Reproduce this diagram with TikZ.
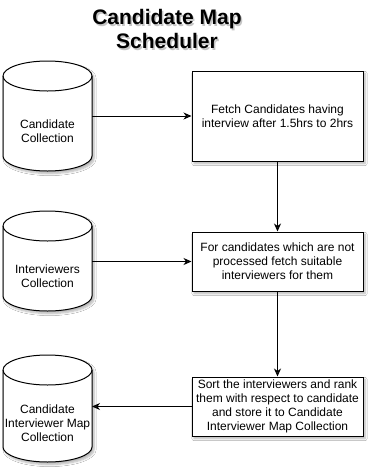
\documentclass[tikz,border=0pt]{standalone}
\usepackage{fontspec}
\setmainfont{Liberation Sans}
\usetikzlibrary{arrows.meta,calc,shadows.blur}

\tikzset{
  softshadow/.style={blur shadow={shadow xshift=2pt,shadow yshift=-2.5pt,shadow opacity=30,shadow blur steps=6}},
  proc/.style={draw, line width=1pt, fill=white, minimum width=171pt, inner sep=0pt,
    align=center, font=\fontsize{12}{14}\selectfont, softshadow},
  cylframe/.style={minimum width=89pt, inner sep=0pt, outer sep=0pt},
  cyltext/.style={align=center, font=\fontsize{12}{14}\selectfont, inner sep=0pt},
  cylline/.style={line width=1pt},
  titletext/.style={align=center, font=\fontsize{21}{24}\selectfont\bfseries, inner sep=0pt},
  flow/.style={-{Stealth[length=8pt,width=7pt,inset=2.5pt]}, line width=1pt},
}

% database cylinder drawn around a frame node
\newcommand\dbshape[1]{%
  \draw[cylline, fill=white, softshadow]
    ($(#1.north west)+(0,-15pt)$) -- ($(#1.south west)+(0,15pt)$)
    arc[start angle=180,end angle=360,x radius=44.5pt,y radius=15pt]
    -- ($(#1.north east)+(0,-15pt)$)
    arc[start angle=0,end angle=180,x radius=44.5pt,y radius=15pt] -- cycle;
  \draw[cylline] ($(#1.north west)+(0,-15pt)$)
    arc[start angle=180,end angle=360,x radius=44.5pt,y radius=15pt];
}

\begin{document}
\begin{tikzpicture}[x=1pt,y=1pt]
  \fill[white] (0,0) rectangle (376,-475);
  \useasboundingbox (0,0) rectangle (376,-475);

  % title with its soft shadow
  \node[titletext, text=black!45, opacity=0.5] (titleshade) at (168.5,-30.5) {Candidate Map\\Scheduler};
  \node[titletext] (title) at (167,-29) {Candidate Map\\Scheduler};

  % process steps
  \node[proc, minimum height=90pt] (boxA) at (277.5,-116)
    {Fetch Candidates having\\interview after 1.5hrs to 2hrs};
  \node[proc, minimum height=59pt] (boxB) at (277.5,-261.5)
    {For candidates which are not\\processed fetch suitable\\interviewers for them};
  \node[proc, minimum height=59pt] (boxC) at (277.5,-406.5)
    {Sort the interviewers and rank\\them with respect to candidate\\and store it to Candidate\\Interviewer Map Collection};

  % collections
  \node[cylframe, minimum height=110pt] (cylA) at (47.5,-116) {};
  \node[cylframe, minimum height=100pt] (cylB) at (47.5,-261) {};
  \node[cylframe, minimum height=107pt] (cylC) at (47.5,-408.5) {};
  \dbshape{cylA}
  \dbshape{cylB}
  \dbshape{cylC}
  \node[cyltext] (cylAtxt) at ($(cylA.center)+(0,-15pt)$) {Candidate\\Collection};
  \node[cyltext] (cylBtxt) at ($(cylB.center)+(0,-15pt)$) {Interviewers\\Collection};
  \node[cyltext] (cylCtxt) at ($(cylC.center)+(0,-15pt)$) {Candidate\\Interviewer Map\\Collection};

  % connectors
  \draw[flow] (cylA.east |- boxA.west) -- (boxA.west);
  \draw[flow] (boxA.south) -- (boxB.north);
  \draw[flow] (cylB.east |- boxB.west) -- (boxB.west);
  \draw[flow] (boxB.south) -- (boxC.north);
  \draw[flow] (boxC.west) -- (cylC.east |- boxC.west);
\end{tikzpicture}
\end{document}
